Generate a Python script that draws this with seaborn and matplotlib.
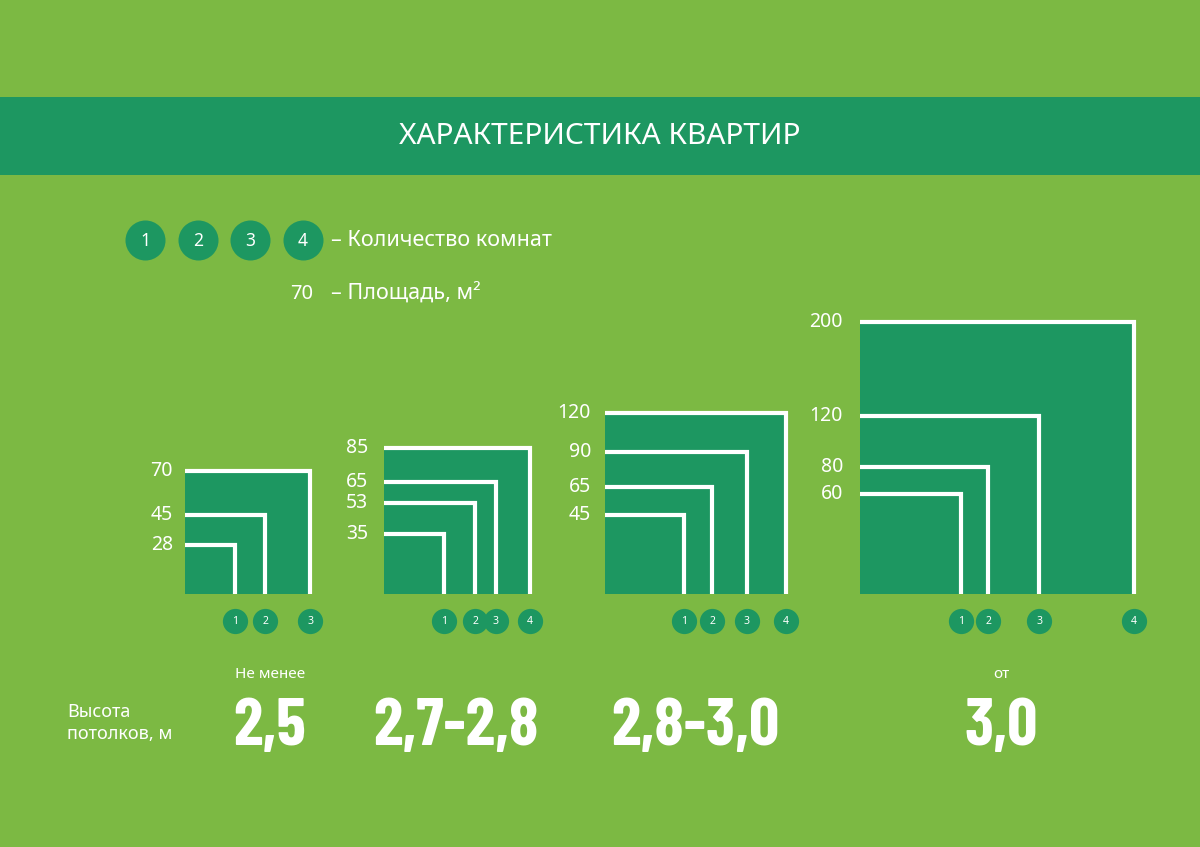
import matplotlib
matplotlib.use("Agg")
import matplotlib.pyplot as plt
from matplotlib.patches import Rectangle
from matplotlib.transforms import ScaledTranslation
import numpy as np
import pandas as pd
import seaborn as sns

# ---------------- data ----------------
title = "ХАРАКТЕРИСТИКА КВАРТИР"
legend_rooms_text = "– Количество комнат"
legend_area_value = "70"
legend_area_text = "– Площадь, м²"
legend_rooms = [1, 2, 3, 4]

areas_g1 = [28, 45, 70]
areas_g2 = [35, 53, 65, 85]
areas_g3 = [45, 65, 90, 120]
areas_g4 = [60, 80, 120, 200]
group_areas = [areas_g1, areas_g2, areas_g3, areas_g4]

ceiling_prefix = ["Не менее", "", "", "от"]
ceiling_height = ["2,5", "2,7-2,8", "2,8-3,0", "3,0"]
ceiling_label = "Высота\nпотолков, м"

# ---------------- style ----------------
BG = "#7cb943"
DARK = "#1d9761"
W, H = 1200, 847
TXT = ["Noto Sans", "DejaVu Sans"]
BIG = ["Barlow Condensed", "Roboto Condensed", "Oswald", "IBM Plex Sans Condensed", "DejaVu Sans"]
sns.set_theme(style="white")
plt.rcParams["font.family"] = TXT

fig = plt.figure(figsize=(W / 100, H / 100), dpi=100, facecolor=BG)

# overlay (pixel coordinates) for banner, legend and captions
bg = fig.add_axes([0, 0, 1, 1], zorder=0)
bg.set_xlim(0, W)
bg.set_ylim(H, 0)
bg.axis("off")
bg.add_patch(Rectangle((0, 97), W, 78, color=DARK, lw=0))
bg.text(600, 137, title, color="white", fontsize=21.5, fontweight="semibold",
        ha="center", va="center")

leg_x = [145, 198, 250, 303]
bg.scatter(leg_x, [240] * 4, s=830, color=DARK, lw=0)
for x, r in zip(leg_x, legend_rooms):
    bg.text(x, 241, str(r), color="white", fontsize=12.5,
            ha="center", va="center")
bg.text(331, 241, legend_rooms_text, color="white", fontsize=15.5,
        ha="left", va="center")
bg.text(302, 294, legend_area_value, color="white", fontsize=14.5,
        ha="center", va="center")
bg.text(331, 294, legend_area_text, color="white", fontsize=15.5,
        ha="left", va="center")

bg.text(67, 723, ceiling_label, color="white", fontsize=13,
        ha="left", va="center", linespacing=1.35)

# group panels: (left, right, top, bottom) in pixels, and scale exponent
panels = [(185, 310, 471, 594), (384, 530, 448, 594),
          (605, 786, 413, 594), (860, 1134, 322, 594)]
scale_exp = [1.0, 1.0, 0.85, 0.83]
label_pad = [12, 16, 14, 17]
height_x = [270, 456, 695, 1001]

rows = []
for gi, areas in enumerate(group_areas):
    for ri, a in enumerate(areas):
        rows.append({"group": gi, "rooms": ri + 1, "area": a})
df = pd.DataFrame(rows)

for gi, (l, r, t, b) in enumerate(panels):
    sub = df[df.group == gi]
    amax = sub.area.max()
    ax = fig.add_axes([l / W, (H - b) / H, (r - l) / W, (b - t) / H], zorder=2)
    p = scale_exp[gi]
    if p != 1.0:
        fwd = lambda v, p=p: np.sign(v) * np.abs(v) ** p
        inv = lambda v, p=p: np.sign(v) * np.abs(v) ** (1 / p)
        ax.set_xscale("function", functions=(fwd, inv))
        ax.set_yscale("function", functions=(fwd, inv))
    ax.set_facecolor(DARK)

    path = []
    for a in sub.area:
        path += [{"area": a, "x": 0, "y": a},
                 {"area": a, "x": a, "y": a},
                 {"area": a, "x": a, "y": 0}]
    path = pd.DataFrame(path)
    sns.lineplot(data=path, x="x", y="y", units="area", estimator=None, sort=False,
                 color="white", lw=3, ax=ax, clip_on=False,
                 solid_joinstyle="miter", solid_capstyle="butt")
    ax.set_xlim(0, amax)
    ax.set_ylim(0, amax)
    ax.set_xticks([])
    ax.set_yticks([])
    ax.set_xlabel("")
    ax.set_ylabel("")
    for s in ax.spines.values():
        s.set_visible(False)

    # area labels
    for a in sub.area:
        ax.annotate(str(a), xy=(0, a), xycoords=ax.get_yaxis_transform(),
                    xytext=(-label_pad[gi], 0), textcoords="offset pixels",
                    ha="right", va="center", color="white", fontsize=14,
                    annotation_clip=False)

    # room circles under right edges
    shift = ax.transData + ScaledTranslation(0, -27 / 100, fig.dpi_scale_trans)
    ax.scatter(sub.area, np.zeros(len(sub)), s=330, color=DARK, lw=0,
               transform=shift, clip_on=False, zorder=5)
    for a, rm in zip(sub.area, sub.rooms):
        ax.annotate(str(rm), xy=(a, 0), xycoords="data", xytext=(0, -27),
                    textcoords="offset pixels", ha="center", va="center",
                    color="white", fontsize=7.5,
                    annotation_clip=False, zorder=6)

    # ceiling heights
    if ceiling_prefix[gi]:
        bg.text(height_x[gi], 675, ceiling_prefix[gi], color="white", fontsize=11,
                ha="center", va="center")
    bg.text(height_x[gi], 745, ceiling_height[gi], color="white", fontsize=48,
            fontweight="bold", family=BIG, ha="center", va="baseline")

fig.savefig("out.png", dpi=100, facecolor=BG)
